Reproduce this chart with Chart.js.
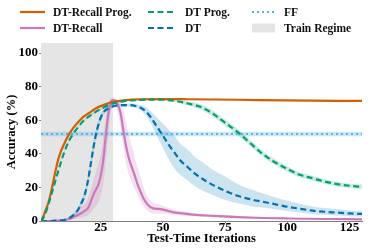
<!DOCTYPE html>
<html>
<head>
<meta charset="utf-8">
<title>Accuracy vs test-time iterations</title>
<script src="https://cdn.jsdelivr.net/npm/chart.js@4.4.1/dist/chart.umd.min.js"></script>
<style>
  body { margin: 0; background: #fff; }
  #wrap { position: relative; width: 374px; height: 249px; }
  #chart { position: absolute; left: 0; top: 0; }
  .key { position: absolute; height: 14px; display: flex; align-items: center;
         font: bold 11.5px "Liberation Serif", "Times New Roman", serif; color: #111; white-space: nowrap; }
</style>
</head>
<body>
<div id="wrap">
  <canvas id="chart" width="374" height="249"></canvas>
</div>
<script>
// tick labels
const iterTicks = [25, 50, 75, 100, 125];
const accTicks = [0, 20, 40, 60, 80, 100];
const iterRange = [1, 130];
const trainRegime = [1, 30];

// DT-Recall Prog.
const dtrpIter = [1, 2, 3, 4, 5, 6, 7, 8, 9, 10, 12, 14, 16, 18, 20, 23, 26, 30, 35, 40, 50, 60, 80, 100, 130];
const dtrpAcc = [0, 3, 7, 11, 17, 24, 31, 37, 41.5, 45, 51, 55.5, 59, 62, 64, 67, 69, 71, 72, 72.5, 72.6, 72.5, 72.2, 71.8, 71.5];

// DT Prog.
const dtpIter = [1, 2, 3, 4, 5, 6, 7, 8, 9, 10, 12, 14, 16, 18, 20, 23, 26, 30, 35, 40, 45, 50, 55, 60, 65, 70, 75, 80, 85, 90, 95, 100, 105, 110, 115, 120, 125, 130];
const dtpAcc = [0, 2, 5.5, 10, 15, 20, 25, 30, 35, 39.5, 47, 52, 56, 59.5, 62, 65, 67.5, 70, 71.5, 72, 72.3, 72.2, 71.5, 70, 68, 64, 58.5, 53, 46.5, 40, 35, 31, 27.5, 25.5, 23.5, 22, 21, 20.3];
const dtpLow = [0, 1.5, 5, 9.4, 14.4, 19.4, 24.4, 29.4, 34.4, 38.9, 46.4, 51.4, 55.4, 58.9, 61.4, 64.4, 66.9, 69.4, 70.9, 71.4, 71.7, 71.6, 70.7, 68.8, 66.4, 62.2, 56.6, 51.1, 44.6, 38.2, 33.3, 29.4, 26, 24, 22, 20.6, 19.6, 18.9];
const dtpHigh = [0, 2.5, 6, 10.6, 15.6, 20.6, 25.6, 30.6, 35.6, 40.1, 47.6, 52.6, 56.6, 60.1, 62.6, 65.6, 68.1, 70.6, 72.1, 72.6, 72.9, 72.8, 72.3, 71.2, 69.6, 65.8, 60.4, 54.9, 48.4, 41.8, 36.7, 32.6, 29, 27, 25, 23.4, 22.4, 21.7];

// DT
const dtIter = [1, 5, 8, 10, 12, 14, 16, 17, 18, 19, 20, 21, 22, 23, 24, 25, 26, 28, 30, 33, 36, 39, 41, 43, 45, 47, 49, 51, 53, 55, 57, 60, 63, 66, 70, 75, 80, 85, 90, 95, 100, 105, 110, 115, 120, 125, 130];
const dtAcc = [0, 0, 0.3, 0.5, 1.5, 3.5, 7, 10, 13, 18, 25, 34, 43, 51, 57, 61.5, 64.5, 67, 68.3, 69, 69, 68.5, 67.5, 65.5, 62, 57.5, 53, 48.5, 44, 40, 36, 32, 28, 25, 21.5, 18, 15, 13, 11.5, 10, 8.5, 7.3, 6.2, 5.5, 5, 4.5, 4.2];
const dtLow = [0, 0, 0, 0.1, 0.9, 2.5, 5.5, 8, 11, 15.5, 22, 31, 40, 48, 54.5, 59.5, 63, 65.8, 67.3, 68, 68, 67.3, 66, 63, 58.5, 52.5, 46.5, 40.5, 35, 30.5, 27.5, 24, 20.5, 18, 15.5, 12.5, 10.5, 9, 8, 7, 6, 5.1, 4.2, 3.7, 3.3, 2.9, 2.7];
const dtHigh = [0, 0.2, 0.6, 0.9, 2.1, 4.5, 8.5, 12, 15, 20.5, 28, 37, 46, 54, 59.5, 63.5, 66, 68.2, 69.3, 70, 70, 69.7, 69, 68, 65.5, 62.5, 59.5, 56.5, 53, 50, 46, 42.5, 38, 35, 30.5, 26.5, 22, 19, 16.5, 14.2, 12, 10.3, 8.7, 7.7, 7, 6.3, 5.8];

// DT-Recall
const dtrIter = [1, 5, 10, 13, 15, 17, 19, 20, 21, 22, 23, 24, 25, 26, 27, 28, 29, 30, 31, 32, 33, 34, 35, 36, 37, 38, 39, 40, 41, 42, 43, 44, 46, 48, 50, 52, 55, 58, 62, 66, 70, 80, 90, 100, 115, 130];
const dtrAcc = [0, 0, 0.5, 1.5, 3, 4.5, 6.5, 8, 11.5, 15.5, 18.5, 21.5, 27, 36, 50, 63, 70.5, 72, 71.5, 69, 64, 55, 46, 39, 34, 30, 25.5, 21, 17.5, 14, 11.5, 9.5, 7.5, 7.2, 6.8, 6, 5, 4.5, 3.8, 3.4, 3, 2.3, 1.8, 1.5, 1.2, 1];
const dtrLow = [0, 0, 0.2, 0.8, 1.5, 2, 3, 3.5, 5, 7, 9, 11, 15, 22, 34, 50, 64, 69, 68, 63, 55, 45, 36, 29, 25, 21, 18, 15, 12, 9.5, 7.5, 6, 4.5, 4.5, 4.5, 4, 3.5, 3.2, 2.8, 2.5, 2.2, 1.6, 1.2, 1, 0.7, 0.5];
const dtrHigh = [0, 0.3, 1, 2.5, 5, 8, 11, 14, 19, 24, 29, 34, 40, 50, 62, 70, 73, 73.5, 73, 72, 70, 66, 60, 53, 47, 42, 36, 31, 26, 21, 17, 14, 11, 10, 9, 8, 6.5, 5.8, 4.8, 4.3, 3.8, 3, 2.4, 2, 1.7, 1.5];

// FF (flat)
const ffAcc = 51.8;
const ffLow = 50.4;
const ffHigh = 53.2;

const colors = {
  dtrp: "#D55E00",
  dtp: "#029E73",
  dt: "#0173B2",
  dtr: "#CC78BC",
  ff: "#56B4E9",
  train: "#e5e5e5",
};

function pts(xs, ys) {
  return xs.map((x, i) => ({ x: x, y: ys[i] }));
}

function line(label, xs, ys, color, dash, order) {
  return {
    label: label,
    data: pts(xs, ys),
    borderColor: color,
    borderWidth: 2.2,
    borderDash: dash,
    pointRadius: 0,
    fill: false,
    cubicInterpolationMode: "monotone",
    order: order,
  };
}

function band(xs, lo, hi, fillColor) {
  return [
    { data: pts(xs, lo), borderColor: "transparent", borderWidth: 0, pointRadius: 0, fill: false, cubicInterpolationMode: "monotone", order: 5 },
    { data: pts(xs, hi), borderColor: "transparent", borderWidth: 0, pointRadius: 0, fill: "-1", backgroundColor: fillColor, cubicInterpolationMode: "monotone", order: 5 },
  ];
}

const tickFont = { family: "'Liberation Serif', 'Times New Roman', serif", size: 13, weight: "bold" };
const titleFont = { family: "'Liberation Serif', 'Times New Roman', serif", size: 12.5, weight: "bold" };

const datasets = [
  line("DT Prog.", dtpIter, dtpAcc, colors.dtp, [6, 3.5], 0),
  line("DT-Recall Prog.", dtrpIter, dtrpAcc, colors.dtrp, [], 1),
  line("DT", dtIter, dtAcc, colors.dt, [6, 3.5], 2),
  line("DT-Recall", dtrIter, dtrAcc, colors.dtr, [], 3),
  line("FF", iterRange, [ffAcc, ffAcc], colors.ff, [2, 3], 4),
  ...band(dtpIter, dtpLow, dtpHigh, "rgba(2,158,115,0.2)"),
  ...band(dtIter, dtLow, dtHigh, "rgba(1,115,178,0.2)"),
  ...band(dtrIter, dtrLow, dtrHigh, "rgba(204,120,188,0.22)"),
  ...band(iterRange, [ffLow, ffLow], [ffHigh, ffHigh], "rgba(86,180,233,0.3)"),
  {
    label: "Train Regime",
    data: pts(trainRegime, [106, 106]),
    borderColor: "transparent",
    borderWidth: 0,
    pointRadius: 0,
    fill: "start",
    backgroundColor: colors.train,
    order: 10,
  },
];

new Chart(document.getElementById("chart"), {
  type: "line",
  data: { datasets: datasets },
  options: {
    responsive: false,
    animation: false,
    layout: { padding: { left: 0, right: 12, top: 43, bottom: 0 } },
    plugins: { legend: { display: false }, tooltip: { enabled: false } },
    scales: {
      x: {
        type: "linear",
        min: iterRange[0],
        max: iterRange[1],
        afterBuildTicks: (s) => { s.ticks = iterTicks.map((v) => ({ value: v })); },
        afterFit: (s) => { s.height = 28; },
        grid: { drawOnChartArea: false, tickLength: 2, color: "#808080" },
        border: { color: "#808080", width: 1 },
        ticks: { font: tickFont, color: "#000", padding: -3.5, maxRotation: 0 },
        title: { display: true, text: "Test-Time Iterations", font: titleFont, color: "#000", padding: { top: 0, bottom: 3 } },
      },
      y: {
        min: 0,
        max: 106,
        afterBuildTicks: (s) => { s.ticks = accTicks.map((v) => ({ value: v })); },
        afterFit: (s) => { s.width = 41; },
        grid: { drawOnChartArea: false, tickLength: 2, color: "#808080" },
        border: { color: "#808080", width: 1 },
        ticks: { font: tickFont, color: "#000", padding: 1 },
        title: { display: true, text: "Accuracy (%)", font: titleFont, color: "#000", padding: { top: 4, bottom: 0 } },
      },
    },
  },
});

// legend, 3 columns x 2 rows
const legendItems = [
  { label: "DT-Recall Prog.", color: colors.dtrp, dash: "" },
  { label: "DT Prog.", color: colors.dtp, dash: "6 3.5" },
  { label: "FF", color: colors.ff, dash: "2 3" },
  { label: "DT-Recall", color: colors.dtr, dash: "" },
  { label: "DT", color: colors.dt, dash: "6 3.5" },
  { label: "Train Regime", color: colors.train, box: true },
];
const colLeft = [20, 148, 252];
const colMark = [25, 27, 23];
const colGap = [8, 10, 9];
const rowTop = [5, 21];
const wrap = document.getElementById("wrap");
legendItems.forEach((it, i) => {
  const c = i % 3;
  const w = colMark[c];
  const div = document.createElement("div");
  div.className = "key";
  div.style.left = colLeft[c] + "px";
  div.style.top = rowTop[Math.floor(i / 3)] + "px";
  const mark = it.box
    ? `<rect x="0" y="2.5" width="${w}" height="9" fill="${it.color}"/>`
    : `<line x1="0" y1="7" x2="${w}" y2="7" stroke="${it.color}" stroke-width="2.2" stroke-dasharray="${it.dash}"/>`;
  div.innerHTML = `<svg width="${w}" height="14" style="margin-right:${colGap[c]}px">${mark}</svg><span>${it.label}</span>`;
  wrap.appendChild(div);
});
</script>
</body>
</html>
